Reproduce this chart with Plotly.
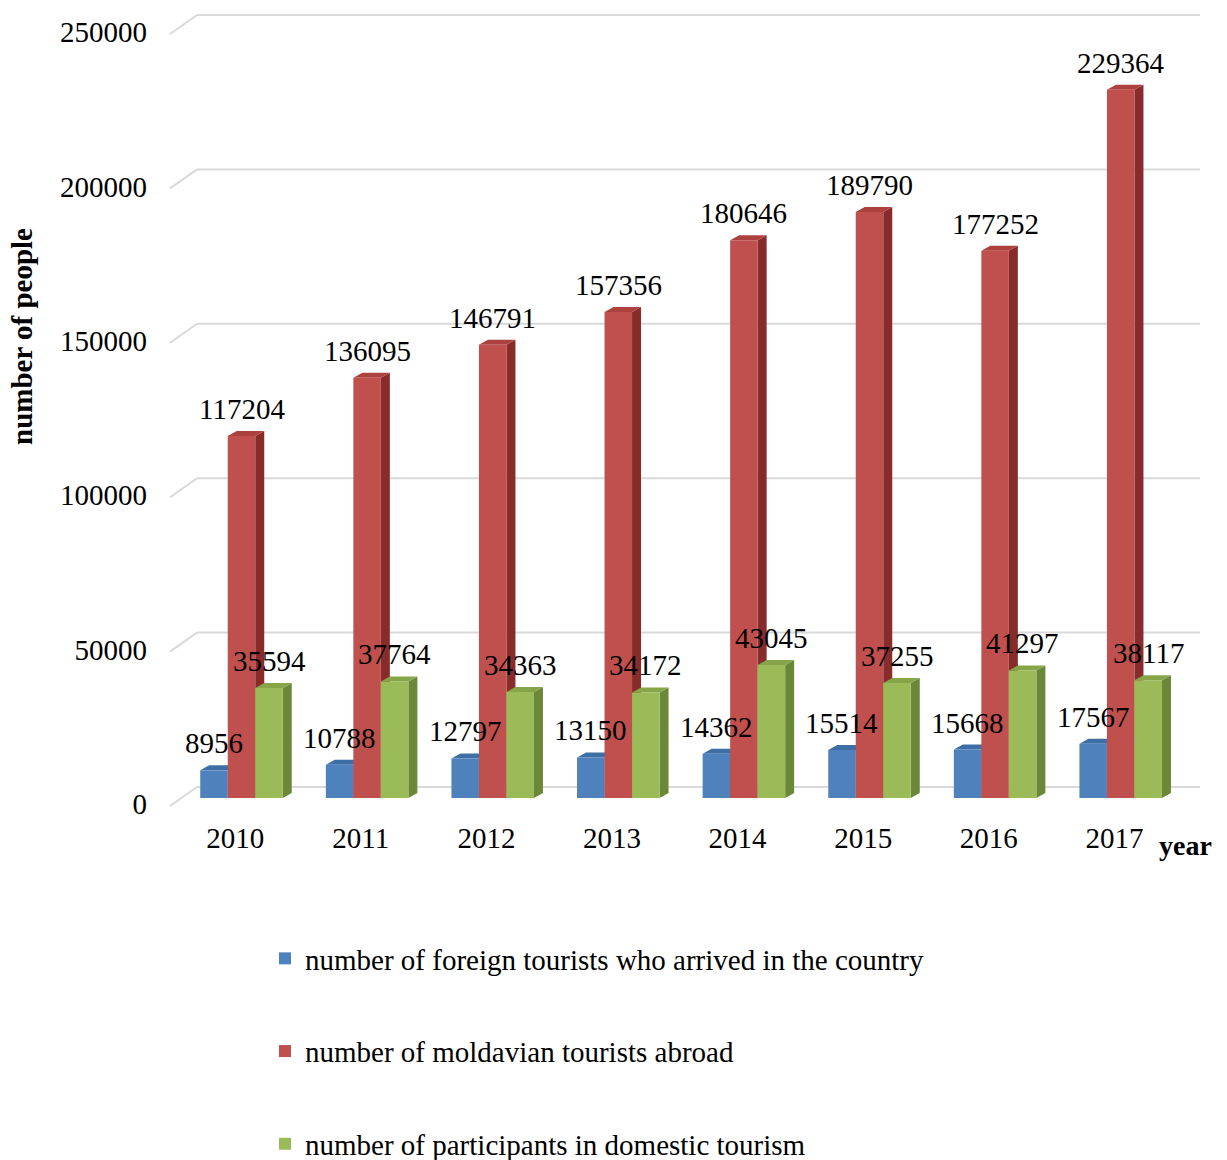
import plotly.graph_objects as go

years = ["2010", "2011", "2012", "2013", "2014", "2015", "2016", "2017"]
foreign = [8956, 10788, 12797, 13150, 14362, 15514, 15668, 17567]
abroad = [117204, 136095, 146791, 157356, 180646, 189790, 177252, 229364]
domestic = [35594, 37764, 34363, 34172, 43045, 37255, 41297, 38117]
names = ["number of foreign tourists who arrived in the country",
         "number of moldavian tourists abroad",
         "number of participants in domestic tourism"]
y_ticks = [0, 50000, 100000, 150000, 200000, 250000]

front = ["#4F81BD", "#C0504D", "#9BBB59"]
topc = ["#3E6EA6", "#AC413E", "#86A549"]
sidec = ["#2E5A8C", "#872C2A", "#6B8838"]

W, H = 1227, 1160
ml, mr, mt, mb = 168, 27, 5, 345
plot_w = W - ml - mr
plot_h = H - mt - mb
px_x = 125.6            # pixels per category unit
x0_px = 241.5           # pixel of first group centre
xmin = (ml - x0_px) / px_x
xmax = (W - mr - x0_px) / px_x
ky = 154.4 / 50000      # pixels per person
base_px = 798
ymin = -(mt + plot_h - base_px) / ky
ymax = (base_px - mt) / ky

bw = 0.219
offs = [-bw, 0.0, bw]
dx = 9 / px_x
dy = 5 / ky

series = [foreign, abroad, domestic]
fig = go.Figure()
for s, vals in enumerate(series):
    fig.add_trace(go.Bar(
        x=[i + offs[s] for i in range(len(years))], y=vals, width=bw,
        marker=dict(color=front[s], line=dict(width=0)),
        name=names[s], legendgroup=str(s), hoverinfo="y",
    ))

shapes = []
def xd(p):
    return (p - x0_px) / px_x
for t in y_ticks:
    yb = t + 11 / ky
    yf = t - 8 / ky
    shapes.append(dict(type="line", xref="x", yref="y", x0=xd(197), x1=xd(1200),
                       y0=yb, y1=yb, line=dict(color="#D9D9D9", width=2), layer="below"))
    shapes.append(dict(type="line", xref="x", yref="y", x0=xd(170), x1=xd(197),
                       y0=yf, y1=yb, line=dict(color="#D9D9D9", width=2), layer="below"))
for s, vals in enumerate(series):
    for i, v in enumerate(vals):
        xl = i + offs[s] - bw / 2
        xr = i + offs[s] + bw / 2
        side = f"M {xr} 0 L {xr} {v} L {xr+dx} {v+dy} L {xr+dx} {dy} Z"
        top = f"M {xl} {v} L {xr} {v} L {xr+dx} {v+dy} L {xl+dx} {v+dy} Z"
        shapes.append(dict(type="path", xref="x", yref="y", path=side,
                           fillcolor=sidec[s], line=dict(width=0), layer="below"))
        shapes.append(dict(type="path", xref="x", yref="y", path=top,
                           fillcolor=topc[s], line=dict(width=0), layer="below"))

annotations = []
for s, vals in enumerate(series):
    for i, v in enumerate(vals):
        annotations.append(dict(x=i + offs[s], y=v, xref="x", yref="y", text=str(v),
                                showarrow=False, yshift=27, yanchor="middle",
                                xanchor="center", font=dict(size=29, color="black")))
annotations.append(dict(x=(22 - ml) / plot_w, y=(mt + plot_h - 337) / plot_h,
                        xref="paper", yref="paper", text="<b>number of people</b>",
                        xanchor="center", yanchor="middle",
                        textangle=-90, showarrow=False, font=dict(size=29, color="black")))
annotations.append(dict(x=(1185 - ml) / plot_w, y=(mt + plot_h - 845) / plot_h,
                        xref="paper", yref="paper", text="<b>year</b>",
                        xanchor="center", yanchor="middle",
                        showarrow=False, font=dict(size=28, color="black")))

fig.update_layout(
    width=W, height=H,
    margin=dict(l=ml, r=mr, t=mt, b=mb, autoexpand=False),
    paper_bgcolor="white", plot_bgcolor="white",
    font=dict(family="Liberation Serif, Times New Roman, serif", size=29, color="black"),
    barmode="overlay",
    shapes=shapes, annotations=annotations,
    showlegend=True,
    legend=dict(x=(265 - ml) / plot_w, y=(mt + plot_h - 933) / plot_h,
                xanchor="left", yanchor="top", orientation="v",
                tracegroupgap=52, font=dict(size=29), bgcolor="rgba(0,0,0,0)"),
    xaxis=dict(range=[xmin, xmax], tickvals=[i - 0.05 for i in range(len(years))],
               ticktext=years, showgrid=False, zeroline=False, showline=False,
               ticks="", ticklabelstandoff=3, tickfont=dict(size=29)),
    yaxis=dict(range=[ymin, ymax], tickvals=y_ticks, ticktext=[str(t) for t in y_ticks],
               showgrid=False, zeroline=False, showline=False, ticks="",
               ticklabelstandoff=20, ticklabelshift=6, tickfont=dict(size=29)),
)
fig.write_html("out.html")
